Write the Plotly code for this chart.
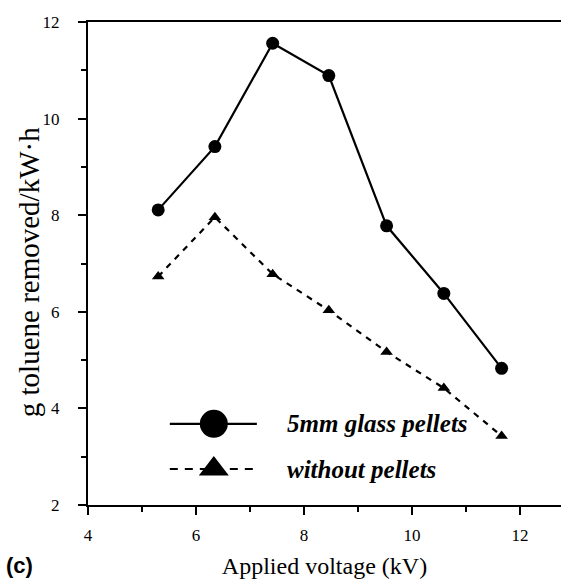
import plotly.graph_objects as go

voltage = [5.30, 6.35, 7.42, 8.46, 9.53, 10.59, 11.66]
with_pellets = [8.11, 9.42, 11.56, 10.89, 7.78, 6.38, 4.83]
without_pellets = [6.73, 7.96, 6.78, 6.03, 5.17, 4.42, 3.43]
x_ticks = [4, 6, 8, 10, 12]
y_ticks = [2, 4, 6, 8, 10, 12]
series_names = ["5mm glass pellets", "without pellets"]
x_title = "Applied voltage (kV)"
y_title = "g toluene removed/kW·h"

SERIF = "Liberation Serif"

fig = go.Figure()
fig.add_trace(go.Scatter(
    x=voltage, y=with_pellets, mode="lines+markers",
    line=dict(color="black", width=2.2),
    marker=dict(symbol="circle", size=13, color="black"),
    showlegend=False))
fig.add_trace(go.Scatter(
    x=voltage, y=without_pellets, mode="lines+markers",
    line=dict(color="black", width=2.2, dash="6px,6px"),
    marker=dict(symbol="triangle-up", size=11, color="black"),
    showlegend=False))

# legend samples drawn on a hidden overlay axis (paper-like 0..1)
fig.add_trace(go.Scatter(
    x=[0.173, 0.357], y=[0.168, 0.168], mode="lines",
    line=dict(color="black", width=2.2), xaxis="x2", yaxis="y2",
    showlegend=False, hoverinfo="skip"))
fig.add_trace(go.Scatter(
    x=[0.266], y=[0.168], mode="markers",
    marker=dict(symbol="circle", size=28, color="black"), xaxis="x2", yaxis="y2",
    showlegend=False, hoverinfo="skip"))
fig.add_trace(go.Scatter(
    x=[0.173, 0.357], y=[0.0745, 0.0745], mode="lines",
    line=dict(color="black", width=2.2, dash="8px,7px"), xaxis="x2", yaxis="y2",
    showlegend=False, hoverinfo="skip"))
fig.add_trace(go.Scatter(
    x=[0.266], y=[0.0745], mode="markers",
    marker=dict(symbol="triangle-up", size=26, color="black"), xaxis="x2", yaxis="y2",
    showlegend=False, hoverinfo="skip"))

for name, yy in zip(series_names, [0.168, 0.0745]):
    fig.add_annotation(x=0.4165, y=yy, xref="paper", yref="paper",
                       text="<b><i>%s</i></b>" % name, showarrow=False,
                       xanchor="left", yanchor="middle",
                       font=dict(family=SERIF, size=25, color="black"))

fig.add_annotation(x=-0.178, y=-0.125, xref="paper", yref="paper",
                   text="<b>(c)</b>", showarrow=False, xanchor="left", yanchor="middle",
                   font=dict(family="Liberation Sans", size=22, color="black"))

# y-axis title placed as rotated text
fig.add_annotation(x=-0.1247, y=0.482, xref="paper", yref="paper",
                   text=y_title, showarrow=False, textangle=-90,
                   xanchor="center", yanchor="middle",
                   font=dict(family=SERIF, size=29, color="black"))

line_style = dict(showgrid=False, zeroline=False, showline=True, linecolor="black",
                  linewidth=2, ticks="outside", ticklen=8, tickwidth=2, tickcolor="black",
                  tickfont=dict(family=SERIF, size=17, color="black"))

fig.update_layout(
    width=561, height=579,
    margin=dict(l=88, r=0, t=22, b=74),
    paper_bgcolor="white", plot_bgcolor="white",
    font=dict(family=SERIF, size=17, color="black"),
    xaxis=dict(range=[4, 12.76], tickvals=x_ticks, mirror=True, ticklabelstandoff=6,
               minor=dict(dtick=1, tick0=0, ticks="outside", ticklen=5, tickwidth=2, tickcolor="black"),
               title=dict(text=x_title, standoff=14,
                          font=dict(family=SERIF, size=24, color="black")),
               **line_style),
    yaxis=dict(range=[2, 12], tickvals=y_ticks, ticklabelstandoff=15,
               minor=dict(dtick=1, tick0=0, ticks="outside", ticklen=5, tickwidth=2, tickcolor="black"),
               **line_style),
    xaxis2=dict(overlaying="x", range=[0, 1], visible=False, fixedrange=True),
    yaxis2=dict(overlaying="y", range=[0, 1], visible=False, fixedrange=True),
)

fig.write_html("out.html")
